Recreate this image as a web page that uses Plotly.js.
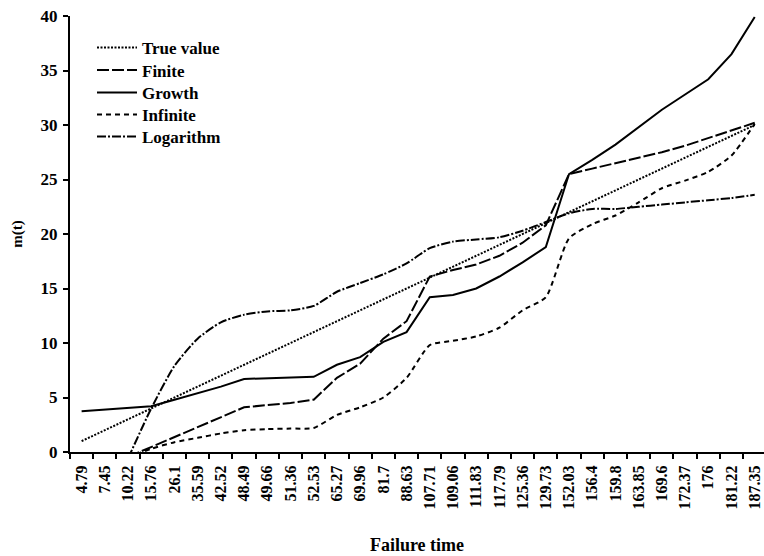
<!DOCTYPE html>
<html><head><meta charset="utf-8">
<script src="https://cdn.plot.ly/plotly-3.0.1.min.js"></script>
<style>html,body{margin:0;padding:0;background:#fff;}#chart{width:764px;height:556px;}</style>
</head><body><div id="chart"></div>
<script>
const failureTimes = ['4.79','7.45','10.22','15.76','26.1','35.59','42.52','48.49','49.66','51.36','52.53','65.27','69.96','81.7','88.63','107.71','109.06','111.83','117.79','125.36','129.73','152.03','156.4','159.8','163.85','169.6','172.37','176','181.22','187.35'];
const trueValue = [1,2,3,4,5,6,7,8,9,10,11,12,13,14,15,16,17,18,19,20,21,22,23,24,25,26,27,28,29,30];
const finite = [null,null,-0.45,0.45,1.4,2.3,3.2,4.1,4.3,4.5,4.8,6.8,8.1,10.4,12.0,16.1,16.7,17.2,18.0,19.2,20.8,25.5,26.0,26.5,27.0,27.5,28.1,28.8,29.5,30.2];
const growth = [3.75,3.9,4.05,4.2,4.8,5.4,6.0,6.7,6.75,6.8,6.9,8.0,8.7,10.1,11.0,14.2,14.4,15.0,16.1,17.4,18.8,25.5,26.8,28.2,29.8,31.4,32.8,34.2,36.5,39.9];
const infinite = [null,null,-0.5,0.3,0.9,1.3,1.7,2.0,2.1,2.15,2.2,3.4,4.1,5.0,6.8,9.8,10.2,10.6,11.4,13.0,14.2,19.6,20.9,21.7,22.9,24.2,24.9,25.7,27.2,30.1];
const logarithm = [null,null,-0.6,4.0,7.9,10.4,11.9,12.6,12.9,13.0,13.4,14.7,15.5,16.3,17.3,18.7,19.3,19.5,19.7,20.3,21.1,21.9,22.3,22.3,22.5,22.7,22.9,23.1,23.3,23.6];

const FONT = 'Liberation Serif, Times New Roman, serif';
const seriesNames = ['True value','Finite','Growth','Infinite','Logarithm'];
const seriesData = [trueValue, finite, growth, infinite, logarithm];
const dashes = ['2px,1.5px','12px,3px','solid','5px,4px','9px,2px,2px,2px'];
const shapes = ['linear','linear','linear','spline','spline'];
const legendIds = ['legend','legend2','legend3','legend4','legend5'];

const traces = seriesNames.map((n,i)=>({
  type:'scatter', mode:'lines', name:n, x:failureTimes, y:seriesData[i],
  line:{color:'#000', width:2, dash:dashes[i], shape:shapes[i], smoothing:0.6},
  legend:legendIds[i], connectgaps:false
}));

const rowsPx = [48,70.5,93,115,137];
const plotTop = 16, plotBottom = 452;
const layout = {
  width:764, height:556,
  margin:{l:70, r:0, t:plotTop, b:556-plotBottom, pad:0},
  paper_bgcolor:'#fff', plot_bgcolor:'#fff',
  font:{family:FONT, color:'#000', size:16, weight:'bold'},
  xaxis:{type:'category', range:[-0.5,29.4], tickson:'boundaries', ticks:'outside', ticklen:5, tickwidth:2, tickcolor:'#000',
    showline:true, linewidth:2, linecolor:'#000', showgrid:false, zeroline:false, tickangle:-90, ticklabelstandoff:5,
    tickfont:{family:FONT, size:16, color:'#000', weight:'bold'},
    title:{text:'Failure time', font:{family:FONT, size:18, color:'#000', weight:'bold'}, standoff:30}},
  yaxis:{range:[0,40], dtick:5, ticks:'outside', ticklen:5, tickwidth:2, tickcolor:'#000',
    showline:true, linewidth:2, linecolor:'#000', showgrid:false, zeroline:false, ticklabelstandoff:2,
    tickfont:{family:FONT, size:17, color:'#000', weight:'bold'},
    title:{text:'m(t)', font:{family:FONT, size:15, color:'#000', weight:'bold'}, standoff:14}},
  showlegend:true
};
legendIds.forEach((id,i)=>{
  layout[id] = {x:(92-70)/694, xanchor:'left', y:(plotBottom-rowsPx[i])/(plotBottom-plotTop), yanchor:'middle',
    bgcolor:'rgba(0,0,0,0)', borderwidth:0, itemwidth:40, font:{family:FONT, size:17, color:'#000', weight:'bold'}};
});
Plotly.newPlot('chart', traces, layout, {displayModeBar:false, staticPlot:true});
</script></body></html>
